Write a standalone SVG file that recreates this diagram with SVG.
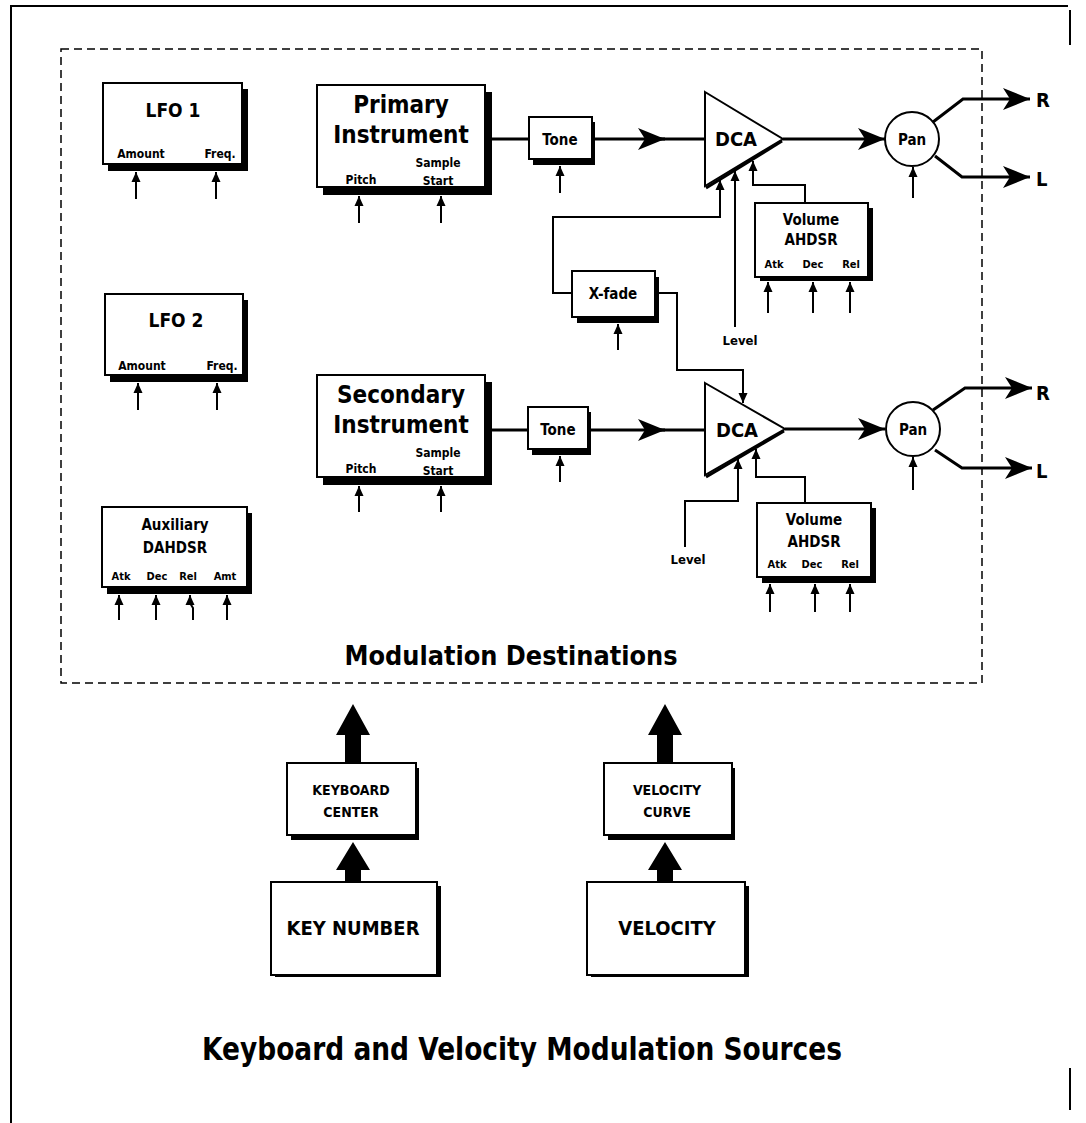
<svg xmlns="http://www.w3.org/2000/svg" width="1086" height="1123" viewBox="0 0 1086 1123">
<style>
.box{fill:#fff;stroke:#000;stroke-width:2}
.sh{fill:#000}
.t{font-family:"DejaVu Sans Condensed","DejaVu Sans",sans-serif;font-weight:bold;fill:#000;text-anchor:middle}
.sig{stroke:#000;stroke-width:3;fill:none}
.thin{stroke:#000;stroke-width:2;fill:none}
.in{stroke:#000;stroke-width:2;fill:none;marker-end:url(#sa)}
.frame{stroke:#000;stroke-width:2;fill:none}
.dash{stroke:#000;stroke-width:1.5;fill:none;stroke-dasharray:8 5}
.s11{font-size:11px}.s12{font-size:12px}.s13{font-size:13px}.s15{font-size:15px}.s19{font-size:19px}.s24{font-size:24px}
</style>
<defs>
<marker id="sa" viewBox="-11 -6 12 12" refX="0" refY="0" markerWidth="12" markerHeight="12" markerUnits="userSpaceOnUse" orient="auto">
<path d="M0,0 L-10,-4.5 L-10,4.5 Z" fill="#000"/>
</marker>
<marker id="ma" viewBox="-28 -12 29 24" refX="0" refY="0" markerWidth="29" markerHeight="24" markerUnits="userSpaceOnUse" orient="auto">
<path d="M0,0 L-27,-11 L-20,0 L-27,11 Z" fill="#000"/>
</marker>
</defs>
<rect width="1086" height="1123" fill="#fff"/>
<g id="frame">
<path class="frame" d="M11,1123 L11,6 L1068,6"/>
<path class="frame" d="M1070,10 L1070,45 M1070,1068 L1070,1110"/>
<rect class="dash" x="61" y="49" width="921" height="634"/>
</g>
<g id="connectors">
<line class="sig" x1="492" y1="139" x2="529" y2="139"/>
<line class="sig" x1="594" y1="139" x2="665" y2="139" style="marker-end:url(#ma)"/>
<line class="sig" x1="660" y1="139" x2="705" y2="139"/>
<line class="sig" x1="783" y1="139" x2="885" y2="139" style="marker-end:url(#ma)"/>
<polyline class="sig" points="933,122 963,99 1030,99" style="marker-end:url(#ma)"/>
<polyline class="sig" points="935,156 962,177 1030,177" style="marker-end:url(#ma)"/>
<line class="sig" x1="492" y1="430" x2="528" y2="430"/>
<line class="sig" x1="591" y1="430" x2="665" y2="430" style="marker-end:url(#ma)"/>
<line class="sig" x1="660" y1="430" x2="705" y2="430"/>
<line class="sig" x1="785" y1="429" x2="885" y2="429" style="marker-end:url(#ma)"/>
<polyline class="sig" points="933,410 965,388 1032,388" style="marker-end:url(#ma)"/>
<polyline class="sig" points="935,450 962,468 1032,468" style="marker-end:url(#ma)"/>
<polyline class="in" points="572,293 553,293 553,217 720,217 720,180"/>
<line class="in" x1="735" y1="327" x2="735" y2="171"/>
<polyline class="in" points="805,203 805,185 753,185 753,161"/>
<polyline class="in" points="659,293 677,293 677,370 743,370 743,403"/>
<polyline class="in" points="685,547 685,501 738,501 738,459"/>
<polyline class="in" points="805,503 805,477 756,477 756,449"/>
<line class="in" x1="136" y1="199" x2="136" y2="172"/>
<line class="in" x1="216" y1="199" x2="216" y2="172"/>
<line class="in" x1="138" y1="410" x2="138" y2="383"/>
<line class="in" x1="217" y1="410" x2="217" y2="383"/>
<line class="in" x1="119" y1="620" x2="119" y2="595"/>
<line class="in" x1="156" y1="620" x2="156" y2="595"/>
<polyline class="in" points="193,620 193,608 190,603 190,595"/>
<line class="in" x1="227" y1="620" x2="227" y2="595"/>
<line class="in" x1="359" y1="223" x2="359" y2="196"/>
<line class="in" x1="441" y1="223" x2="441" y2="196"/>
<line class="in" x1="560" y1="193" x2="560" y2="166"/>
<line class="in" x1="359" y1="512" x2="359" y2="486"/>
<line class="in" x1="441" y1="512" x2="441" y2="486"/>
<line class="in" x1="560" y1="482" x2="560" y2="456"/>
<line class="in" x1="618" y1="350" x2="618" y2="324"/>
<line class="in" x1="768" y1="313" x2="768" y2="282"/>
<line class="in" x1="813" y1="313" x2="813" y2="282"/>
<line class="in" x1="850" y1="313" x2="850" y2="282"/>
<line class="in" x1="770" y1="612" x2="770" y2="584"/>
<line class="in" x1="815" y1="612" x2="815" y2="584"/>
<line class="in" x1="850" y1="612" x2="850" y2="584"/>
<line class="in" x1="913" y1="198" x2="913" y2="167"/>
<line class="in" x1="913" y1="490" x2="913" y2="457"/>
<polygon points="353,704 370,735 361,735 361,763 345,763 345,735 336,735" fill="#000"/>
<polygon points="353,842 370,870 361,870 361,882 345,882 345,870 336,870" fill="#000"/>
<polygon points="665,704 682,735 673,735 673,763 657,763 657,735 648,735" fill="#000"/>
<polygon points="665,842 682,870 673,870 673,882 657,882 657,870 648,870" fill="#000"/>
</g>
<g id="lfo1">
<rect class="sh" x="108" y="89" width="140" height="82"/>
<rect class="box" x="103" y="83" width="139" height="81"/>
<text class="t s19" x="173" y="117">LFO 1</text>
<text class="t s12" x="141" y="158">Amount</text>
<text class="t s12" x="220" y="158">Freq.</text>
</g>
<g id="lfo2">
<rect class="sh" x="110" y="300" width="138" height="82"/>
<rect class="box" x="105" y="294" width="138" height="81"/>
<text class="t s19" x="176" y="327">LFO 2</text>
<text class="t s12" x="142" y="370">Amount</text>
<text class="t s12" x="222" y="370">Freq.</text>
</g>
<g id="aux">
<rect class="sh" x="107" y="513" width="145" height="81"/>
<rect class="box" x="102" y="507" width="145" height="80"/>
<text class="t s15" x="175" y="530">Auxiliary</text>
<text class="t s15" x="175" y="553">DAHDSR</text>
<text class="t s11" x="121" y="580">Atk</text>
<text class="t s11" x="157" y="580">Dec</text>
<text class="t s11" x="188" y="580">Rel</text>
<text class="t s11" x="225" y="580">Amt</text>
</g>
<g id="primary">
<rect class="sh" x="323" y="92" width="169" height="103"/>
<rect class="box" x="317" y="85" width="168" height="102"/>
<text class="t s24" x="401" y="113">Primary</text>
<text class="t s24" x="401" y="143">Instrument</text>
<text class="t s12" x="438" y="167">Sample</text>
<text class="t s12" x="438" y="185">Start</text>
<text class="t s12" x="361" y="184">Pitch</text>
</g>
<g id="tone1">
<rect class="sh" x="533" y="122" width="62" height="43"/>
<rect class="box" x="529" y="117" width="63" height="42"/>
<text class="t s15" x="560" y="145">Tone</text>
</g>
<g id="secondary">
<rect class="sh" x="323" y="382" width="169" height="103"/>
<rect class="box" x="317" y="375" width="168" height="102"/>
<text class="t s24" x="401" y="403">Secondary</text>
<text class="t s24" x="401" y="433">Instrument</text>
<text class="t s12" x="438" y="457">Sample</text>
<text class="t s12" x="438" y="475">Start</text>
<text class="t s12" x="361" y="473">Pitch</text>
</g>
<g id="tone2">
<rect class="sh" x="532" y="412" width="59" height="43"/>
<rect class="box" x="528" y="407" width="60" height="42"/>
<text class="t s15" x="558" y="435">Tone</text>
</g>
<g id="xfade">
<rect class="sh" x="577" y="277" width="82" height="46"/>
<rect class="box" x="572" y="271" width="83" height="46"/>
<text class="t s15" x="613" y="299">X-fade</text>
</g>
<g id="dca1">
<polygon class="box" points="705,92 783,139 705,186"/>
<line x1="706" y1="188" x2="782" y2="141" stroke="#000" stroke-width="3"/>
<text class="t" style="font-size:20px" x="736" y="146">DCA</text>
</g>
<g id="dca2">
<polygon class="box" points="705,383 785,429 705,475"/>
<line x1="706" y1="477" x2="784" y2="431" stroke="#000" stroke-width="3"/>
<text class="t" style="font-size:20px" x="737" y="437">DCA</text>
</g>
<g id="level1"><text class="t s13" x="740" y="345">Level</text></g>
<g id="level2"><text class="t s13" x="688" y="564">Level</text></g>
<g id="vol1">
<rect class="sh" x="760" y="208" width="113" height="73"/>
<rect class="box" x="755" y="203" width="113" height="74"/>
<text class="t s15" x="811" y="225">Volume</text>
<text class="t s15" x="811" y="245">AHDSR</text>
<text class="t s11" x="774" y="268">Atk</text>
<text class="t s11" x="813" y="268">Dec</text>
<text class="t s11" x="851" y="268">Rel</text>
</g>
<g id="vol2">
<rect class="sh" x="762" y="508" width="114" height="75"/>
<rect class="box" x="757" y="503" width="114" height="74"/>
<text class="t s15" x="814" y="525">Volume</text>
<text class="t s15" x="814" y="547">AHDSR</text>
<text class="t s11" x="777" y="568">Atk</text>
<text class="t s11" x="812" y="568">Dec</text>
<text class="t s11" x="850" y="568">Rel</text>
</g>
<g id="pan1">
<circle class="box" cx="912" cy="139" r="27"/>
<text class="t s15" x="912" y="145">Pan</text>
</g>
<g id="pan2">
<circle class="box" cx="913" cy="429" r="27"/>
<text class="t s15" x="913" y="435">Pan</text>
</g>
<g id="outs">
<text class="t" style="font-size:20px;text-anchor:start" x="1036" y="107">R</text>
<text class="t" style="font-size:20px;text-anchor:start" x="1036" y="186">L</text>
<text class="t" style="font-size:20px;text-anchor:start" x="1036" y="400">R</text>
<text class="t" style="font-size:20px;text-anchor:start" x="1036" y="478">L</text>
</g>
<g id="title-dest"><text class="t" style="font-size:27px" x="511" y="665" textLength="333" lengthAdjust="spacingAndGlyphs">Modulation Destinations</text></g>
<g id="kbcenter">
<rect class="sh" x="291" y="768" width="128" height="72"/>
<rect class="box" x="287" y="763" width="129" height="72"/>
<text class="t" style="font-size:14px" x="351" y="795">KEYBOARD</text>
<text class="t" style="font-size:14px" x="351" y="817">CENTER</text>
</g>
<g id="keynum">
<rect class="sh" x="275" y="886" width="166" height="91"/>
<rect class="box" x="271" y="882" width="166" height="93"/>
<text class="t" style="font-size:20px" x="353" y="935">KEY NUMBER</text>
</g>
<g id="velcurve">
<rect class="sh" x="608" y="768" width="127" height="72"/>
<rect class="box" x="604" y="763" width="128" height="72"/>
<text class="t" style="font-size:14px" x="667" y="795">VELOCITY</text>
<text class="t" style="font-size:14px" x="667" y="817">CURVE</text>
</g>
<g id="velocity">
<rect class="sh" x="591" y="886" width="158" height="91"/>
<rect class="box" x="587" y="882" width="158" height="93"/>
<text class="t" style="font-size:20px" x="667" y="935">VELOCITY</text>
</g>
<g id="title-src"><text class="t" style="font-size:32px" x="522" y="1060" textLength="640" lengthAdjust="spacingAndGlyphs">Keyboard and Velocity Modulation Sources</text></g>
</svg>
